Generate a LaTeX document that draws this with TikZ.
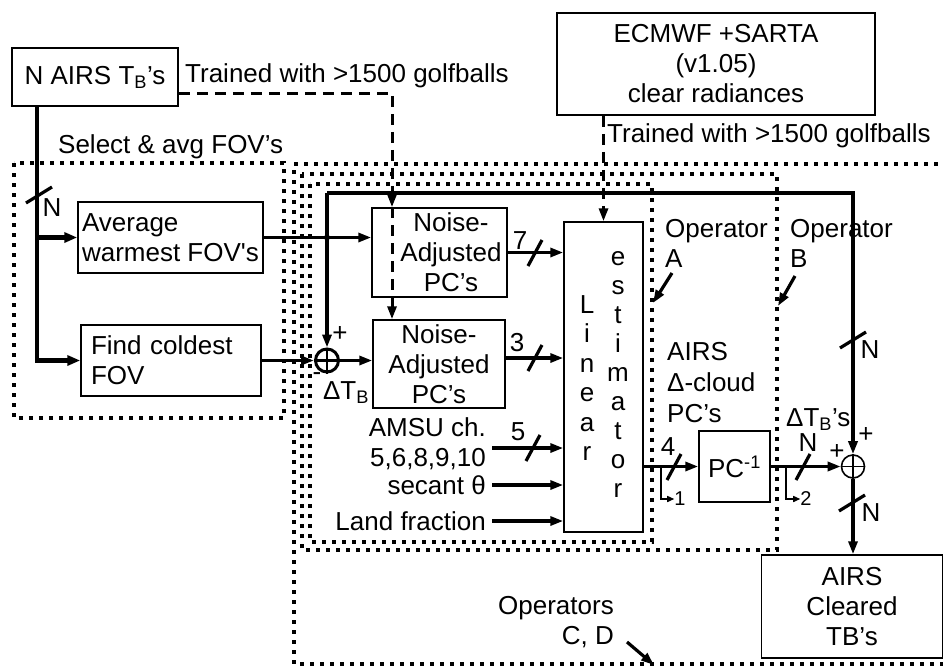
\documentclass[tikz,border=0pt]{standalone}
\usepackage{fontspec}
\setmainfont{Liberation Sans}
\usetikzlibrary{arrows.meta,calc}
\begin{document}
\begin{tikzpicture}[x=1pt,y=-1pt,
  every node/.style={font=\fontsize{26}{30}\selectfont, inner sep=0pt},
  box/.style={draw, line width=1.5pt},
  conn/.style={line width=3.2pt, -{Triangle[length=13pt,width=9pt]}},
  thickconn/.style={line width=4.2pt, -{Triangle[length=13pt,width=10pt]}},
  dots/.style={line width=3.8pt, dash pattern=on 3.8pt off 6.2pt},
  dashconn/.style={line width=3pt, dash pattern=on 11pt off 7pt, -{Triangle[length=13pt,width=9pt]}},
  slash/.style={line width=3.2pt},
  tap/.style={line width=1.4pt, -{Triangle[length=7pt,width=6pt]}},
  small/.style={font=\fontsize{20}{22}\selectfont},
  sumnode/.style={draw, circle, minimum size=23}
]
\useasboundingbox (0,0) rectangle (943,667);

% dotted operator frames
\draw[dots] (14,163) rectangle (284,418);
\draw[dots] (948,164) -- (294,164) -- (294,664) -- (948,664);
\draw[dots] (302,174) rectangle (777,550);
\draw[dots] (310,184) rectangle (652,542);

% boxes
\node[box, minimum width=166, minimum height=58] (nairs) at (95,77) {N AIRS T\textsubscript{B}’s};
\node[anchor=west] (train1) at (185,76) {Trained with >1500 golfballs};
\node[anchor=west] (sel) at (58,147) {Select \& avg FOV’s};
\node[box, minimum width=185, minimum height=71, align=left] (avg) at (170.5,237.5) {Average\\warmest FOV\textquotesingle s};
\node[box, text width=160, inner xsep=10, minimum height=71, align=left] (cold) at (171,360.5) {Find coldest\\FOV};

\node[box, minimum width=135, minimum height=89] (na1) at (439.5,252.5) {};
\node[align=center] (na1t) at (451,252.5) {Noise-\\Adjusted\\PC’s};
\node[box, minimum width=132, minimum height=88, align=center] (na2) at (439,364) {Noise-\\Adjusted\\PC’s};

\node[box, minimum width=79, minimum height=310] (lin) at (603.5,377) {};
\foreach \c [count=\i from 0] in {L,i,n,e,a,r}
  \node[anchor=base] (la\i) at (587,313+29.5*\i) {\c};
\foreach \c [count=\i from 0] in {e,s,t,i,m,a,t,o,r}
  \node[anchor=base] (lb\i) at (618,265+29*\i) {\c};

\node[box, minimum width=318, minimum height=102, align=center] (ecm) at (716,64) {ECMWF +SARTA\\(v1.05)\\clear radiances};
\node[anchor=west] (train2) at (607,136) {Trained with >1500 golfballs};

\node[anchor=west, align=left] (opA) at (665,243) {Operator\\A};
\node[anchor=west, align=left] (opB) at (790,243) {Operator\\B};
\node[anchor=west, align=left, font=\fontsize{26}{31}\selectfont] (dcl) at (667,383) {AIRS\\Δ-cloud\\PC’s};
\node[anchor=west] (dtb) at (786,420) {ΔT\textsubscript{B}’s};

\node[box, minimum width=71, minimum height=71] (pcinv) at (734.5,466.5) {PC\textsuperscript{-1}};
\node[box, minimum width=181, minimum height=103, align=center] (clr) at (852,606.5) {AIRS\\Cleared\\TB’s};
\node[anchor=east, align=right] (opCD) at (614,622) {Operators\\C, D};

% summing junctions
\node[sumnode, line width=3pt] (s1) at (327,360.5) {};
\draw[line width=2.2pt] (s1.north) -- (s1.south) (s1.west) -- (s1.east);
\node[sumnode, line width=1.6pt] (s2) at (853,466.5) {};
\draw[line width=1.4pt] (s2.north) -- (s2.south) (s2.west) -- (s2.east);
\node (p1) at (340,334) {+};
\node (m1) at (317,377) {-};
\node (dtb1) at (346,393) {ΔT\textsubscript{B}};
\node (p2) at (866,435) {+};
\node (p3) at (837,452) {+};

% input labels
\node[anchor=east, align=right] (amsu) at (486,443.5) {AMSU ch.\\5,6,8,9,10};
\node[anchor=east] (sec) at (486,485) {secant θ};
\node[anchor=east] (land) at (486,521) {Land fraction};

% N AIRS trunk
\coordinate (br) at (38,237.5);
\draw[thickconn] ([xshift=26]nairs.south west) |- (cold.west);
\draw[thickconn] (br) -- (avg.west);
\draw[slash] (39,195) +(-13,8) -- +(13,-8);
\node (nA) at (52,208) {N};

% warmest path and feedback
\draw[conn] (avg.east) -- (avg.east -| na1.west);
\coordinate (jn) at (327,237.5);
\fill (jn) circle (3);
\coordinate (fbL) at (327,193);
\coordinate (fbR) at (853,193);
\draw[conn] (fbL) -- (s1.north);
\draw[conn] (fbL) -- (fbR) -- (s2.north);
\draw[slash] (853,340) +(-13,8) -- +(13,-8);
\node (nB) at (870,350) {N};

% coldest path
\draw[conn] (cold.east) -- (s1.west);
\draw[conn] (s1.east) -- (s1.east -| na2.west);

% dashed training inputs
\coordinate (dk) at (392,93);
\draw[dashconn] ([yshift=-16]nairs.east) -- (dk) -- (dk |- na1.north);
\draw[dashconn] (dk |- na1.north) -- (dk |- na2.north);
\draw[dashconn] (ecm.south -| lin.north) -- (lin.north);

% into the linear estimator
\draw[conn] (na1.east) -- (na1.east -| lin.west);
\draw[slash] (535,253) +(-7,13) -- +(7,-13);
\node (n7) at (520,241) {7};
\coordinate (y3) at (0,358);
\draw[conn] (na2.east |- y3) -- (lin.west |- y3);
\draw[slash] (535,358) +(-7,13) -- +(7,-13);
\node (n3) at (517,343) {3};
\coordinate (y5) at (0,448);
\draw[conn] (amsu.east |- y5) ++(6,0) -- (lin.west |- y5);
\draw[slash] (533,448) +(-7,13) -- +(7,-13);
\node (n5) at (518,432) {5};
\coordinate (ys) at (0,485);
\draw[conn] (sec.east |- ys) ++(6,0) -- (lin.west |- ys);
\coordinate (yl) at (0,521);
\draw[conn] (land.east |- yl) ++(6,0) -- (lin.west |- yl);

% output chain
\draw[conn] (lin.east |- pcinv.west) -- (pcinv.west);
\draw[slash] (674,467) +(-7,13) -- +(7,-13);
\node (n4) at (668,447) {4};
\draw[conn] (pcinv.east) -- (s2.west);
\draw[slash] (803,467) +(-7,13) -- +(7,-13);
\node (nC) at (808,443) {N};
\draw[conn] (s2.south) -- (s2.south |- clr.north);
\draw[slash] (852,503) +(-13,8) -- +(13,-8);
\node (nD) at (871,513) {N};

% taps
\node[small] (one) at (680,499) {1};
\coordinate (t1) at (661,466.5);
\draw[tap] (t1) |- (one.west);
\node[small] (two) at (806,499) {2};
\coordinate (t2) at (786,466.5);
\draw[tap] (t2) |- (two.west);

% operator pointers
\coordinate (aA1) at (672,273); \coordinate (aA2) at (653,303);
\draw[conn] (aA1) -- (aA2);
\coordinate (aB1) at (795,276); \coordinate (aB2) at (778,306);
\draw[conn] (aB1) -- (aB2);
\coordinate (aC1) at (627,642); \coordinate (aC2) at (654,665);
\draw[conn] (aC1) -- (aC2);
\end{tikzpicture}
\end{document}
